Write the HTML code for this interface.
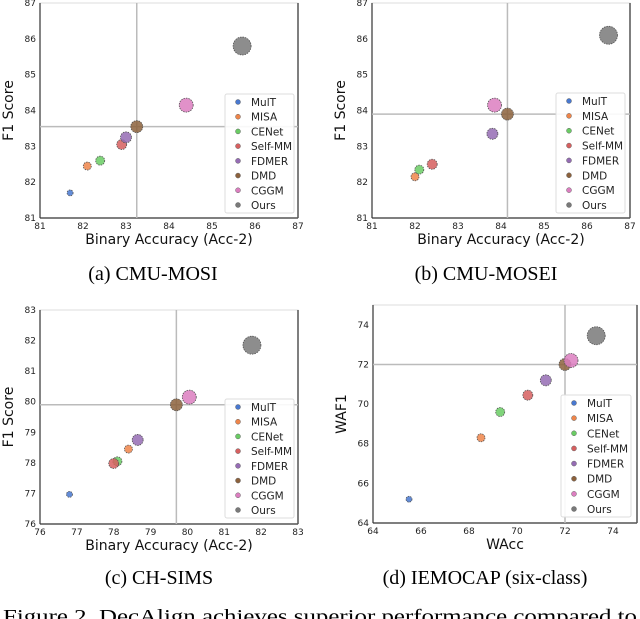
<!DOCTYPE html>
<html><head><meta charset="utf-8"><style>
body{margin:0;background:#fff;}
svg{display:block;font-family:"DejaVu Sans","Liberation Sans",sans-serif;}
.cap{font-family:"Liberation Serif",serif;font-size:20px;fill:#000;}
</style></head><body>
<svg id="fig" width="640" height="619" viewBox="0 0 640 619" xmlns="http://www.w3.org/2000/svg"></svg>
<script>
const methods = ["MulT","MISA","CENet","Self-MM","FDMER","DMD","CGGM","Ours"];
const colors = ["#4878d0","#ee854a","#6acc64","#d65f5f","#956cb4","#8c613c","#dc7ec0","#797979"];
const radii = [3,4,4.5,5,5.5,6,7,9];
const mosiX = [81.7,82.1,82.4,82.9,83.0,83.25,84.4,85.7];
const mosiY = [81.7,82.45,82.6,83.05,83.25,83.55,84.15,85.8];
const moseiX = [null,82.0,82.1,82.4,83.8,84.15,83.85,86.5];
const moseiY = [null,82.15,82.35,82.5,83.35,83.9,84.15,86.1];
const simsX = [76.8,78.4,78.1,78.0,78.65,79.7,80.05,81.75];
const simsY = [76.97,78.45,78.05,77.98,78.75,79.9,80.15,81.85];
const iemoX = [65.5,68.5,69.3,70.45,71.2,72.0,72.25,73.3];
const iemoY = [65.2,68.3,69.6,70.45,71.2,72.0,72.2,73.45];
const ticks81 = [81,82,83,84,85,86,87];
const ticks76 = [76,77,78,79,80,81,82,83];
const ticks64 = [64,66,68,70,72,74];

const svg = document.getElementById('fig');
const NS = "http://www.w3.org/2000/svg";
function mk(tag, attrs, parent){const e=document.createElementNS(NS,tag);for(const k in attrs)e.setAttribute(k,attrs[k]);(parent||svg).appendChild(e);return e;}
function txt(s, attrs, parent){const e=mk('text',attrs,parent);e.textContent=s;return e;}

function panel(cfg){
  const g = mk('g',{});
  
  
  const sx = v => cfg.L + (v-cfg.xmin)/(cfg.xmax-cfg.xmin)*(cfg.R-cfg.L);
  const sy = v => cfg.B - (v-cfg.ymin)/(cfg.ymax-cfg.ymin)*(cfg.B-cfg.T);
  mk('rect',{x:cfg.L,y:cfg.T,width:cfg.R-cfg.L,height:cfg.B-cfg.T,fill:'none',stroke:'#ddd','stroke-width':1},g);
  mk('line',{x1:cfg.L,y1:cfg.T,x2:cfg.L,y2:cfg.B,stroke:'#333','stroke-width':1.2},g);
  mk('line',{x1:cfg.L,y1:cfg.B,x2:cfg.R,y2:cfg.B,stroke:'#333','stroke-width':1.2},g);
  mk('line',{x1:cfg.R,y1:cfg.T,x2:cfg.R,y2:cfg.B,stroke:'#555','stroke-width':1.5},g);
  const vx = sx(cfg.xs[cfg.ref]), hy = sy(cfg.ys[cfg.ref]);
  const vl = mk('line',{x1:vx,y1:cfg.T,x2:vx,y2:cfg.B,stroke:'#bbb','stroke-width':1.5},g);
  
  
  const hl = mk('line',{x1:cfg.L,y1:hy,x2:cfg.R,y2:hy,stroke:'#bbb','stroke-width':1.5},g);
  
  
  cfg.xt.forEach(t=>{const e=txt(String(t),{x:sx(t),y:cfg.B+11,'font-size':9,'text-anchor':'middle',fill:'#222'},g);
    
    });
  cfg.yt.forEach(t=>{const e=txt(String(t),{x:cfg.L-4,y:sy(t)+3,'font-size':9,'text-anchor':'end',fill:'#222'},g);
    
    });
  const xtEl = txt(cfg.xlabel,{x:(cfg.L+cfg.R)/2,y:cfg.B+26,'font-size':14,'text-anchor':'middle',fill:'#111'},g);
  
  
  const cy=(cfg.T+cfg.B)/2, cx=cfg.L-27;
  const ytEl = txt(cfg.ylabel,{x:cx,y:cy,'font-size':14,'text-anchor':'middle',fill:'#111',transform:`rotate(-90 ${cx} ${cy})`},g);
  
  
  methods.forEach((m,i)=>{
    if(cfg.xs[i]==null) return;
    const c = mk('circle',{cx:sx(cfg.xs[i]),cy:sy(cfg.ys[i]),r:radii[i],fill:colors[i],'fill-opacity':0.85,stroke:'#555','stroke-width':0.8,'stroke-dasharray':'1.5 1'},g);
    
    
  });
  const lg = mk('g',{},g);
  
  
  mk('rect',{x:cfg.lx,y:cfg.ly,width:cfg.lw,height:cfg.lh,fill:'#fff','fill-opacity':0.9,stroke:'#ddd',rx:2},lg);
  const step=(cfg.lh-16)/7;
  methods.forEach((m,i)=>{
    const yy=cfg.ly+8+i*step;
    const d=mk('circle',{cx:cfg.lx+13,cy:yy,r:2.5,fill:colors[i],stroke:'#666','stroke-width':0.5},lg);
    
    
    const t=txt(m,{x:cfg.lx+26,y:yy+4,'font-size':10.5,fill:'#222'},lg);
    
    
  });
  const cap = txt(cfg.caption,{x:(cfg.L+cfg.R)/2-(cfg.capShift||0),y:cfg.capY,'text-anchor':'middle',class:'cap'},g);
  
  
}

panel({name:'panel-cmu-mosi',L:40,R:298,T:3,B:218,xmin:81,xmax:87,ymin:81,ymax:87,xt:ticks81,yt:ticks81,xs:mosiX,ys:mosiY,ref:5,
  xlabel:'Binary Accuracy (Acc-2)',ylabel:'F1 Score',lx:225,ly:94,lw:69,lh:119,caption:'(a) CMU-MOSI',capY:280,capShift:16});
panel({name:'panel-cmu-mosei',L:372,R:630,T:3,B:218,xmin:81,xmax:87,ymin:81,ymax:87,xt:ticks81,yt:ticks81,xs:moseiX,ys:moseiY,ref:5,
  xlabel:'Binary Accuracy (Acc-2)',ylabel:'F1 Score',lx:556,ly:93,lw:69,lh:120,caption:'(b) CMU-MOSEI',capY:280,capShift:15});
panel({name:'panel-ch-sims',L:40,R:298,T:310,B:524,xmin:76,xmax:83,ymin:76,ymax:83,xt:ticks76,yt:ticks76,xs:simsX,ys:simsY,ref:5,
  xlabel:'Binary Accuracy (Acc-2)',ylabel:'F1 Score',lx:225,ly:399,lw:69,lh:119,caption:'(c) CH-SIMS',capY:584,capShift:10});
panel({name:'panel-iemocap',L:373,R:637,T:305,B:523,xmin:64,xmax:75,ymin:64,ymax:75,xt:ticks64,yt:ticks64,xs:iemoX,ys:iemoY,ref:5,
  xlabel:'WAcc',ylabel:'WAF1',lx:561,ly:395,lw:70,lh:122,caption:'(d) IEMOCAP (six-class)',capY:584,capShift:20});
const fc = txt('Figure 2.  DecAlign achieves superior performance compared to',{x:3,y:623,class:'cap','font-size':19,textLength:634,lengthAdjust:'spacingAndGlyphs'});


</script>
</body></html>
